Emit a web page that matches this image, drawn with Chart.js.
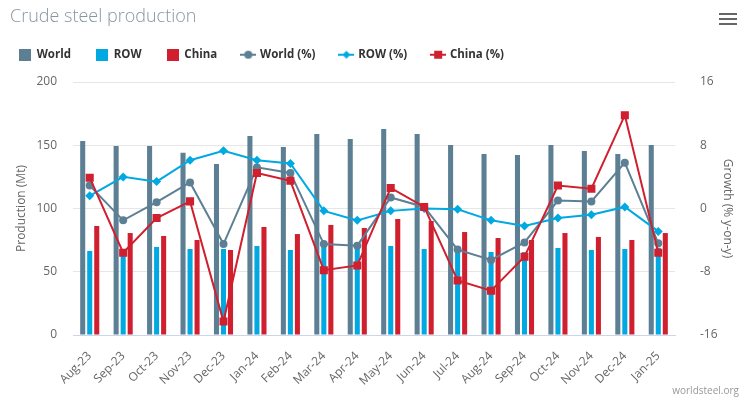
<!DOCTYPE html>
<html>
<head>
<meta charset="utf-8">
<script src="https://cdn.jsdelivr.net/npm/chart.js@4.4.1/dist/chart.umd.min.js"></script>
<style>
  body { margin: 0; background: #fff; }
  #wrap { position: relative; width: 754px; height: 399px; }
  #title {
    position: absolute; left: 10px; top: 6px;
    font: 300 18px/18px "Open Sans", sans-serif; color: #8796a0;
  }
  #menu { position: absolute; left: 719px; top: 13px; width: 18px; }
  #menu span { display: block; height: 2px; background: #666; margin-bottom: 3px; }
  #credit {
    position: absolute; right: 15px; top: 383px;
    font: 10px "Open Sans", sans-serif; color: #999;
  }
</style>
</head>
<body>
<div id="wrap">
  <canvas id="steel-chart"></canvas>
  <div id="title">Crude steel production</div>
  <div id="menu"><span></span><span></span><span></span></div>
  <div id="credit">worldsteel.org</div>
</div>
<script>
/**
 * Crude steel production, monthly (Mt) and growth (% y-on-y)
 */

const months = ["Aug-23", "Sep-23", "Oct-23", "Nov-23", "Dec-23", "Jan-24", "Feb-24", "Mar-24", "Apr-24",
  "May-24", "Jun-24", "Jul-24", "Aug-24", "Sep-24", "Oct-24", "Nov-24", "Dec-24", "Jan-25"];

// production, Mt
const world = [153.4, 149.4, 149.5, 144.0, 135.2, 157.3, 148.6, 158.9, 155.0,
  162.8, 158.9, 150.2, 143.1, 142.3, 150.2, 145.5, 143.1, 150.2];
const row = [66.4, 67.0, 69.6, 68.0, 68.0, 70.4, 67.2, 71.0, 70.0,
  70.4, 68.0, 68.5, 65.6, 65.5, 68.8, 67.2, 68.0, 69.0];
const china = [86.2, 80.6, 78.3, 75.1, 67.2, 85.4, 79.8, 87.0, 84.6,
  91.7, 90.1, 81.4, 76.7, 75.1, 80.6, 77.5, 75.1, 80.6];

// growth, % y-on-y
const worldPct = [2.9, -1.5, 0.8, 3.3, -4.5, 5.2, 4.5, -4.5, -4.7,
  1.4, 0.2, -5.2, -6.5, -4.3, 1.0, 0.9, 5.8, -4.4];
const rowPct = [1.6, 4.0, 3.4, 6.1, 7.3, 6.1, 5.7, -0.3, -1.5,
  -0.3, 0.0, -0.1, -1.5, -2.2, -1.2, -0.8, 0.2, -2.9];
const chinaPct = [3.9, -5.6, -1.2, 0.9, -14.3, 4.5, 3.5, -7.8, -7.2,
  2.6, 0.2, -9.1, -10.4, -6.1, 2.9, 2.5, 11.8, -5.6];

const prodTicks = [0, 50, 100, 150, 200];
const growthTicks = [-16, -8, 0, 8, 16];

const COLORS = { world: "#5d7f94", row: "#00a9e1", china: "#d01f2e" };

// little canvases for the legend symbols
function legendIcon(color, marker) {
  const c = document.createElement("canvas");
  const ctx = c.getContext("2d");
  if (!marker) {
    c.width = 12; c.height = 12;
    ctx.fillStyle = color;
    ctx.fillRect(0, 0, 12, 12);
    return c;
  }
  c.width = 16; c.height = 12;
  ctx.fillStyle = color;
  ctx.fillRect(0, 5, 16, 2);
  ctx.beginPath();
  if (marker === "circle") ctx.arc(8, 6, 4, 0, Math.PI * 2);
  if (marker === "diamond") { ctx.moveTo(8, 2); ctx.lineTo(12, 6); ctx.lineTo(8, 10); ctx.lineTo(4, 6); }
  if (marker === "square") ctx.rect(4, 2, 8, 8);
  ctx.fill();
  return c;
}

const icons = [
  legendIcon(COLORS.world), legendIcon(COLORS.row), legendIcon(COLORS.china),
  legendIcon(COLORS.world, "circle"), legendIcon(COLORS.row, "diamond"), legendIcon(COLORS.china, "square"),
];

// a bit of room between the legend and the plot
const legendSpacer = {
  id: "legendSpacer",
  beforeInit(chart) {
    const fit = chart.legend.fit;
    chart.legend.fit = function () {
      fit.call(this);
      this.height += 11.5;
    };
  },
};

function bar(label, data, color) {
  return {
    type: "bar", label, data, yAxisID: "prod", order: 4,
    backgroundColor: color, borderWidth: 0,
    categoryPercentage: 0.63, barPercentage: 0.72,
  };
}

function line(label, data, color, pointStyle, radius, order) {
  return {
    type: "line", label, data, yAxisID: "growth", order,
    borderColor: color, backgroundColor: color, borderWidth: 2, tension: 0,
    pointStyle, pointRadius: radius, pointBorderWidth: 0, pointBackgroundColor: color,
  };
}

const chart = document.getElementById("steel-chart");

new Chart(chart, {
  data: {
    labels: months,
    datasets: [
      bar("World", world, COLORS.world),
      bar("ROW", row, COLORS.row),
      bar("China", china, COLORS.china),
      line("World (%)", worldPct, COLORS.world, "circle", 4, 3),
      line("ROW (%)", rowPct, COLORS.row, "rectRot", 4.5, 2),
      line("China (%)", chinaPct, COLORS.china, "rect", 5.7, 1),
    ],
  },

  options: {
    responsive: true,
    maintainAspectRatio: false,
    animation: false,
    layout: { padding: { left: -6, top: 24, right: 0, bottom: 0 } },
    plugins: {
      tooltip: { enabled: false },
      legend: {
        align: "start",
        labels: {
          usePointStyle: true,
          pointStyleWidth: 12,
          padding: 25,
          color: "#333",
          font: { family: "Open Sans", size: 11.5, weight: "bold" },
          generateLabels: (c) =>
            c.data.datasets.map((ds, i) => ({
              text: ds.label,
              pointStyle: icons[i],
              fontColor: "#333",
              datasetIndex: i,
              hidden: !c.isDatasetVisible(i),
              lineWidth: 0,
            })),
        },
      },
    },
    scales: {
      x: {
        grid: { display: false },
        border: { display: true, color: "#ccd6eb" },
        ticks: {
          minRotation: 45, maxRotation: 45, padding: 6, autoSkip: false,
          color: "#666", font: { family: "Open Sans", size: 12 },
        },
        afterFit: (s) => { s.height = 64; },
      },
      prod: {
        position: "left",
        min: 0, max: 200,
        afterBuildTicks: (s) => { s.ticks = prodTicks.map((v) => ({ value: v })); },
        grid: { color: "#e6e6e6", drawTicks: false },
        border: { display: false },
        ticks: { padding: 16, color: "#666", font: { family: "Open Sans", size: 12 } },
        title: {
          display: true, text: "Production (Mt)", color: "#666",
          font: { family: "Open Sans", size: 12 }, padding: { top: 20 },
        },
        afterFit: (s) => { s.width = 79; },
      },
      growth: {
        position: "right",
        min: -16, max: 16,
        afterBuildTicks: (s) => { s.ticks = growthTicks.map((v) => ({ value: v })); },
        grid: { display: false },
        border: { display: false },
        ticks: { padding: 17, color: "#666", font: { family: "Open Sans", size: 12 } },
        title: {
          display: true, text: "Growth (% y-on-y)", color: "#666",
          font: { family: "Open Sans", size: 12 }, padding: { top: 19 },
        },
        afterFit: (s) => { s.width = 79; },
      },
    },
  },
  plugins: [legendSpacer],
});
</script>
</body>
</html>
